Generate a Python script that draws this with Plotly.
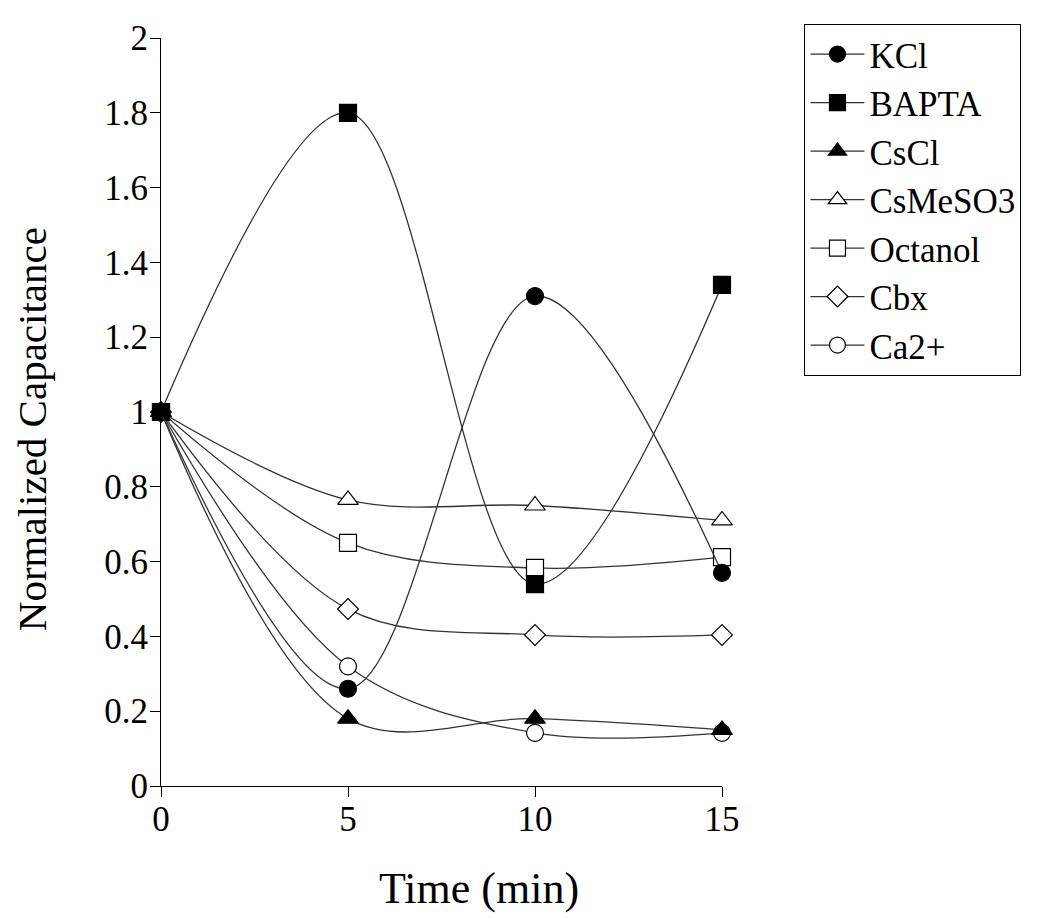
import plotly.graph_objects as go

time_min = [0, 5, 10, 15]
kcl = [1.0, 0.26, 1.31, 0.57]
bapta = [1.0, 1.80, 0.54, 1.34]
cscl = [1.0, 0.18, 0.18, 0.15]
csmeso3 = [1.0, 0.765, 0.75, 0.71]
octanol = [1.0, 0.65, 0.583, 0.612]
cbx = [1.0, 0.473, 0.404, 0.404]
ca2 = [1.0, 0.32, 0.142, 0.142]
y_ticks = [0, 0.2, 0.4, 0.6, 0.8, 1, 1.2, 1.4, 1.6, 1.8, 2]
y_labels = ["0", "0.2", "0.4", "0.6", "0.8", "1", "1.2", "1.4", "1.6", "1.8", "2"]
x_ticks = [0, 5, 10, 15]
x_labels = ["0", "5", "10", "15"]

LINE = "#333333"
FONT = "Liberation Serif, Times New Roman, serif"

# (name, data, symbol, fill, rank) - open markers drawn first, filled on top
series = [
    ("CsMeSO3", csmeso3, "triangle-up", "white", 4),
    ("Octanol", octanol, "square", "white", 5),
    ("Cbx", cbx, "diamond", "white", 6),
    ("Ca2+", ca2, "circle", "white", 7),
    ("KCl", kcl, "circle", "black", 1),
    ("BAPTA", bapta, "square", "black", 2),
    ("CsCl", cscl, "triangle-up", "black", 3),
]
sizes = {"triangle-up": 18, "square": 17, "diamond": 16, "circle": 17}

fig = go.Figure()
for name, vals, sym, fill, rank in series:
    fig.add_trace(go.Scatter(
        x=time_min, y=vals, name=name, mode="lines+markers",
        line=dict(color=LINE, width=1.3, shape="spline", smoothing=1.0),
        marker=dict(symbol=sym, size=sizes[sym], color=fill,
                    line=dict(color="black", width=1.2)),
        legendrank=rank, cliponaxis=False,
    ))

fig.update_layout(
    width=1050, height=919,
    margin=dict(l=153, r=336, t=30, b=141),
    paper_bgcolor="white", plot_bgcolor="white",
    font=dict(family=FONT, color="black", size=35),
    showlegend=True,
    legend=dict(
        x=1.147, y=1.019, xanchor="left", yanchor="top",
        bordercolor="black", borderwidth=1,
        font=dict(family=FONT, size=35, color="black"),
        itemwidth=54,
    ),
    annotations=[
        dict(text="Time (min)", xref="paper", yref="paper", x=0.566, y=-0.137,
             xanchor="center", yanchor="middle", showarrow=False,
             font=dict(family=FONT, size=44, color="black")),
        dict(text="Normalized Capacitance", xref="paper", yref="paper", x=-0.23, y=0.477,
             xanchor="center", yanchor="middle", showarrow=False, textangle=-90,
             font=dict(family=FONT, size=41, color="black")),
    ],
)
fig.update_xaxes(
    range=[0, 15], tickvals=x_ticks, ticktext=x_labels, automargin=False,
    showgrid=False, zeroline=False, showline=True, linecolor="black", linewidth=1,
    ticks="outside", ticklen=10, tickcolor="black", ticklabelstandoff=-8,
    tickfont=dict(family=FONT, size=35, color="black"),
)
fig.update_yaxes(
    range=[0, 2], tickvals=y_ticks, ticktext=y_labels, automargin=False,
    showgrid=False, zeroline=False, showline=True, linecolor="black", linewidth=1,
    ticks="outside", ticklen=10, tickcolor="black", ticklabelstandoff=-5,
    tickfont=dict(family=FONT, size=35, color="black"),
)

fig.write_html("out.html")
